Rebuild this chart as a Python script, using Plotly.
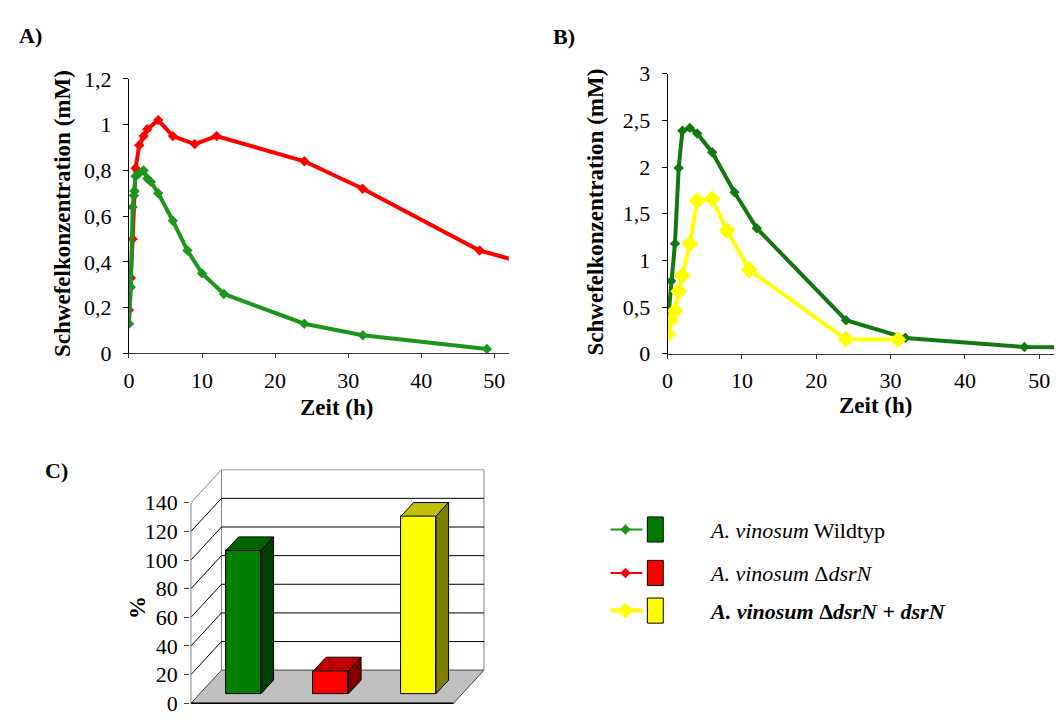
import plotly.graph_objects as go

W, H = 1059, 724
FONT = "Liberation Serif, Times New Roman, serif"

# ---------------- data ----------------
# Panel A
a_wt_t = [0, 0.25, 0.5, 0.67, 0.75, 0.9, 1.33, 2, 2.5, 3, 4, 6, 8, 10, 13, 24, 32, 49]
a_wt_v = [0.13, 0.29, 0.64, 0.69, 0.71, 0.775, 0.785, 0.80, 0.765, 0.75, 0.70, 0.58, 0.45, 0.35, 0.26, 0.13, 0.08, 0.02]
a_mut_t = [0, 0.25, 0.5, 0.9, 1.4, 2, 2.5, 4, 6, 9, 12, 24, 32, 48, 56]
a_mut_v = [0.19, 0.33, 0.50, 0.81, 0.91, 0.95, 0.98, 1.02, 0.95, 0.915, 0.95, 0.84, 0.72, 0.45, 0.38]
# Panel B
b_wt_t = [0, 0.5, 1, 1.5, 2, 3, 4, 6, 9, 12, 24, 32, 48, 72]
b_wt_v = [0.30, 0.78, 1.18, 1.99, 2.39, 2.42, 2.36, 2.16, 1.73, 1.345, 0.36, 0.17, 0.072, 0.055]
b_comp_t = [0, 0.4, 1, 1.5, 2, 3, 4, 6, 8, 11, 24, 31]
b_comp_v = [0.21, 0.36, 0.46, 0.67, 0.84, 1.18, 1.64, 1.66, 1.32, 0.90, 0.155, 0.152]
# Panel C
c_categories = ["Wildtyp", "ΔdsrN", "ΔdsrN + dsrN"]
c_values = [100, 16, 124]
c_ticks = [0, 20, 40, 60, 80, 100, 120, 140]
time_ticks = [0, 10, 20, 30, 40, 50]
legend_labels = [
    "<i>A. vinosum</i> Wildtyp",
    "<i>A. vinosum</i> Δ<i>dsrN</i>",
    "<b><i>A. vinosum</i> Δ<i>dsrN</i> + <i>dsrN</i></b>",
]

# ---------------- styles ----------------
GREEN_A = "#1c961c"
GREEN_B = "#127812"
RED = "#ff0000"
YELLOW = "#ffff00"
bar_front = ["#008000", "#ff0000", "#ffff00"]
bar_top = ["#006400", "#c00000", "#c0c000"]
bar_side = ["#004000", "#800000", "#808000"]


def fx(px):
    return px / W


def fy(py):
    return 1 - py / H


fig = go.Figure()

# Panel A traces
fig.add_trace(go.Scatter(x=a_mut_t, y=a_mut_v, mode="lines+markers", xaxis="x", yaxis="y",
                         line=dict(color=RED, width=4), marker=dict(symbol="diamond", size=8, color=RED),
                         showlegend=False))
fig.add_trace(go.Scatter(x=a_wt_t, y=a_wt_v, mode="lines+markers", xaxis="x", yaxis="y",
                         line=dict(color=GREEN_A, width=4), marker=dict(symbol="diamond", size=8, color=GREEN_A),
                         showlegend=False))
# Panel B traces
fig.add_trace(go.Scatter(x=b_wt_t, y=b_wt_v, mode="lines+markers", xaxis="x2", yaxis="y2",
                         line=dict(color=GREEN_B, width=4), marker=dict(symbol="diamond", size=8, color=GREEN_B),
                         showlegend=False))
fig.add_trace(go.Scatter(x=b_comp_t, y=b_comp_v, mode="lines+markers", xaxis="x2", yaxis="y2",
                         line=dict(color=YELLOW, width=4), marker=dict(symbol="diamond", size=13, color=YELLOW),
                         showlegend=False))

# ---------------- Panel C: pseudo-3D bar chart ----------------
DX = 0.349   # depth offset in category units
DY = 23.1    # depth offset in value units
F0 = 0.29    # bar front depth fraction
FD = 0.41    # bar depth fraction
BW = 0.4     # bar width
n = len(c_values)
x_lo, x_hi = -0.5, n - 0.5

shapes = []
# floor
shapes.append(dict(type="path", xref="x3", yref="y3", layer="below",
                   path=f"M {x_lo},0 L {x_hi},0 L {x_hi+DX},{DY} L {x_lo+DX},{DY} Z",
                   fillcolor="#c0c0c0", line=dict(color="#404040", width=1)))
shapes.append(dict(type="line", xref="x3", yref="y3", layer="below",
                   x0=x_lo, y0=0, x1=x_hi, y1=0, line=dict(color="#000000", width=1.5)))
# back wall
shapes.append(dict(type="rect", xref="x3", yref="y3", layer="below",
                   x0=x_lo + DX, y0=DY, x1=x_hi + DX, y1=c_ticks[-1] + DY,
                   fillcolor="rgba(0,0,0,0)", line=dict(color="#808080", width=1)))
# gridlines on back wall and diagonals on side wall
for v in c_ticks[1:]:
    col = "#000000" if v < c_ticks[-1] else "#808080"
    if v < c_ticks[-1]:
        shapes.append(dict(type="line", xref="x3", yref="y3", layer="below",
                           x0=x_lo + DX, y0=v + DY, x1=x_hi + DX, y1=v + DY,
                           line=dict(color=col, width=1)))
    shapes.append(dict(type="line", xref="x3", yref="y3", layer="below",
                       x0=x_lo, y0=v, x1=x_lo + DX, y1=v + DY, line=dict(color=col, width=1)))
# front-left axis line
shapes.append(dict(type="line", xref="x3", yref="y3", layer="below",
                   x0=x_lo, y0=0, x1=x_lo, y1=c_ticks[-1], line=dict(color="#808080", width=1)))

# bars
bx = [i + F0 * DX for i in range(n)]
base = F0 * DY
fig.add_trace(go.Bar(x=bx, y=c_values, base=base, width=BW, xaxis="x3", yaxis="y3",
                     marker=dict(color=bar_front, line=dict(color="#000000", width=1)),
                     showlegend=False))
for i, v in enumerate(c_values):
    xl = bx[i] - BW / 2
    xr = bx[i] + BW / 2
    top = base + v
    ddx, ddy = FD * DX, FD * DY
    fig.add_trace(go.Scatter(x=[xl, xr, xr + ddx, xl + ddx, xl], y=[top, top, top + ddy, top + ddy, top],
                             mode="lines", fill="toself", fillcolor=bar_top[i],
                             line=dict(color="#000000", width=1), xaxis="x3", yaxis="y3",
                             showlegend=False, hoverinfo="skip"))
    fig.add_trace(go.Scatter(x=[xr, xr + ddx, xr + ddx, xr, xr], y=[base, base + ddy, top + ddy, top, base],
                             mode="lines", fill="toself", fillcolor=bar_side[i],
                             line=dict(color="#000000", width=1), xaxis="x3", yaxis="y3",
                             showlegend=False, hoverinfo="skip"))

# ---------------- legend (own small axis in pixel units) ----------------
leg_y = [536, 581, 620]
leg_colors = [GREEN_A, RED, YELLOW]
leg_box = ["#007a00", "#ff0000", "#ffff00"]
leg_lw = [2, 2, 4]
leg_ms = [8, 8, 12]
for i in range(3):
    fig.add_trace(go.Scatter(x=[608, 640], y=[leg_y[i], leg_y[i]], mode="lines", xaxis="x4", yaxis="y4",
                             line=dict(color=leg_colors[i], width=leg_lw[i]), showlegend=False, hoverinfo="skip"))
    fig.add_trace(go.Scatter(x=[623], y=[leg_y[i]], mode="markers", xaxis="x4", yaxis="y4",
                             marker=dict(symbol="diamond", size=leg_ms[i], color=leg_colors[i]),
                             showlegend=False, hoverinfo="skip"))
    shapes.append(dict(type="rect", xref="x4", yref="y4", x0=645, x1=661, y0=leg_y[i] - 13, y1=leg_y[i] + 13,
                       fillcolor=leg_box[i], line=dict(color="#000000", width=1)))

annotations = []
for i in range(3):
    annotations.append(dict(text=legend_labels[i], x=fx(705), y=fy(leg_y[i] + 1), xref="paper", yref="paper",
                            xanchor="left", yanchor="middle", showarrow=False,
                            font=dict(family=FONT, size=22, color="#000")))

# panel labels
for lab, px, py in [("A)", 25, 24), ("B)", 561, 25), ("C)", 51, 475)]:
    annotations.append(dict(text=f"<b>{lab}</b>", x=fx(px), y=fy(py), xref="paper", yref="paper",
                            xanchor="center", yanchor="middle", showarrow=False,
                            font=dict(family=FONT, size=22, color="#000")))
# axis titles
for txt, px, py, ang in [("Schwefelkonzentration (mM)", 57.5, 209, -90),
                          ("Schwefelkonzentration (mM)", 592.5, 207.5, -90),
                          ("Zeit (h)", 332.5, 410, 0),
                          ("Zeit (h)", 874, 408, 0),
                          ("%", 132, 617, -90)]:
    annotations.append(dict(text=f"<b>{txt}</b>", x=fx(px), y=fy(py), xref="paper", yref="paper",
                            xanchor="center", yanchor="middle", showarrow=False, textangle=ang,
                            font=dict(family=FONT, size=23, color="#000")))

tickfont = dict(family=FONT, size=22, color="#000")


def xax(domain, rng):
    return dict(domain=domain, range=rng, tickvals=time_ticks, ticks="outside", ticklen=4, tickcolor="#333",
                showline=True, linecolor="#333", linewidth=1, showgrid=False, zeroline=False,
                tickfont=tickfont, ticklabelstandoff=3, fixedrange=True)


def yax(domain, rng, dtick, anchor):
    return dict(domain=domain, range=rng, dtick=dtick, tick0=0, ticks="outside", ticklen=5, tickcolor="#000",
                showline=True, linecolor="#000", linewidth=1, showgrid=False, zeroline=False,
                tickfont=tickfont, ticklabelstandoff=7, anchor=anchor, fixedrange=True)


# C axes geometry (front plane): 0 at y=716px, 1.4833 px per unit; category unit = 88 px, x=-0.5 at 186px
c_ymin, c_ymax = -1, 163.5
c_xmin, c_xmax = -0.51, 2.87
pxu = 1.4833
c_bot = 716 - c_ymin * pxu
c_top = 716 - c_ymax * pxu
c_left = 186 + (c_xmin + 0.5) * 88
c_right = 186 + (c_xmax + 0.5) * 88

fig.update_layout(
    width=W, height=H, margin=dict(l=0, r=0, t=0, b=0),
    paper_bgcolor="white", plot_bgcolor="rgba(0,0,0,0)",
    separators=",.",
    font=dict(family=FONT, color="#000"),
    xaxis=dict(**xax([fx(123.7), fx(505.7)], [0, 52]), anchor="y"),
    yaxis=yax([fy(353.7), fy(69.3)], [0, 1.2], 0.2, "x"),
    xaxis2=dict(**xax([fx(665.3), fx(1054.1)], [0, 52]), anchor="y2"),
    yaxis2=yax([fy(354), fy(64)], [0, 3], 0.5, "x2"),
    xaxis3=dict(domain=[fx(c_left), fx(c_right)], range=[c_xmin, c_xmax], visible=False, anchor="y3",
                fixedrange=True),
    yaxis3=dict(domain=[fy(c_bot), fy(c_top)], range=[c_ymin, c_ymax], tickvals=c_ticks, ticks="outside",
                ticklen=5, tickcolor="#404040", showline=False, showgrid=False, zeroline=False,
                tickfont=dict(family=FONT, size=22, color="#000"), ticklabelstandoff=2,
                anchor="x3", fixedrange=True),
    xaxis4=dict(domain=[fx(600), fx(1000)], range=[600, 1000], visible=False, anchor="y4", fixedrange=True),
    yaxis4=dict(domain=[fy(650), fy(510)], range=[650, 510], visible=False, anchor="x4", fixedrange=True),
    shapes=shapes,
    annotations=annotations,
    bargap=0,
)

fig.write_html("out.html")
